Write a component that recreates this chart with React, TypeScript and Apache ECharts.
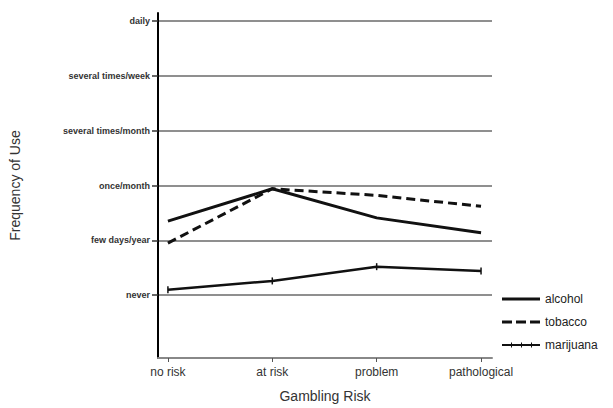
import React, { useEffect, useRef } from "react";
import * as echarts from "echarts";

const categories = ["no risk", "at risk", "problem", "pathological"];
const yLabels = ["never", "few days/year", "once/month", "several times/month", "several times/week", "daily"];
const alcohol = [1.35, 1.94, 1.41, 1.14];
const tobacco = [0.95, 1.94, 1.82, 1.62];
const marijuana = [0.1, 0.26, 0.52, 0.44];

const iconSolid = "path://M0,0L0,0M38,8L38,8M0,2.5H38V5.5H0Z";
const iconDash = "path://M0,0L0,0M38,8L38,8M0,2.5H10V5.5H0ZM14,2.5H24V5.5H14ZM28,2.5H38V5.5H28Z";
const iconTick = "path://M0,0L0,0M38,8L38,8M0,3H38V5H0ZM9,1.5H10V6.5H9ZM19,1.5H20V6.5H19ZM29,1.5H30V6.5H29Z";

export default function App() {
  const ref = useRef<HTMLDivElement>(null);
  useEffect(() => {
    const chart = echarts.init(ref.current!, null, { renderer: "svg" });
    const toPts = (arr: number[]) => arr.map((v, i) => [i, v]);
    chart.setOption({
      animation: false,
      backgroundColor: "#ffffff",
      textStyle: { fontFamily: "Liberation Sans, Arial, sans-serif" },
      grid: { left: 158, right: 121, top: 13, bottom: 49 },
      legend: {
        orient: "vertical",
        left: 497,
        top: 288,
        itemWidth: 38,
        itemHeight: 8,
        itemGap: 11,
        textStyle: { fontSize: 12, color: "#222" },
        itemStyle: { color: "#111", borderWidth: 0 },
        data: [
          { name: "alcohol", icon: iconSolid },
          { name: "tobacco", icon: iconDash },
          { name: "marijuana", icon: iconTick },
        ],
      },
      xAxis: {
        type: "value",
        min: -0.095,
        max: 3.105,
        name: "Gambling Risk",
        nameLocation: "middle",
        nameGap: 31,
        nameTextStyle: { fontSize: 14, color: "#333" },
        axisLine: { show: true, onZero: false, lineStyle: { color: "#888", width: 2 } },
        axisTick: { show: true, customValues: [0, 1, 2, 3], length: 4, lineStyle: { color: "#555" } },
        axisLabel: {
          customValues: [0, 1, 2, 3],
          formatter: (v: number) => categories[Math.round(v)] ?? "",
          fontSize: 12,
          color: "#333",
          margin: 8,
        },
        splitLine: { show: false },
      },
      yAxis: {
        type: "value",
        min: -1.145,
        max: 5.145,
        name: "Frequency of Use",
        nameLocation: "middle",
        nameGap: 136,
        nameRotate: 90,
        nameTextStyle: { fontSize: 14, color: "#333" },
        axisLine: { show: true, onZero: false, lineStyle: { color: "#000", width: 2 } },
        axisTick: { show: true, customValues: [0, 1, 2, 3, 4, 5], length: 6, lineStyle: { color: "#333", width: 1.5 } },
        axisLabel: {
          customValues: [0, 1, 2, 3, 4, 5],
          formatter: (v: number) => yLabels[Math.round(v)] ?? "",
          fontSize: 9,
          fontWeight: "bold",
          color: "#333",
          margin: 8,
        },
        splitLine: { show: true, lineStyle: { color: "#6a6a6a", width: 1.5 } },
      },
      series: [
        {
          name: "alcohol",
          type: "line",
          data: toPts(alcohol),
          showSymbol: false,
          symbol: "none",
          lineStyle: { color: "#111", width: 3, type: "solid" },
          itemStyle: { color: "#111" },
        },
        {
          name: "tobacco",
          type: "line",
          data: toPts(tobacco),
          showSymbol: false,
          symbol: "none",
          lineStyle: { color: "#111", width: 3, type: [9, 5] },
          itemStyle: { color: "#111" },
        },
        {
          name: "marijuana",
          type: "line",
          data: toPts(marijuana),
          symbol: "rect",
          symbolSize: [1.5, 7],
          lineStyle: { color: "#111", width: 2.5 },
          itemStyle: { color: "#111" },
        },
      ],
    });
    return () => chart.dispose();
  }, []);
  return <div ref={ref} style={{ width: 613, height: 408, position: "absolute", left: 0, top: 0 }} />;
}
